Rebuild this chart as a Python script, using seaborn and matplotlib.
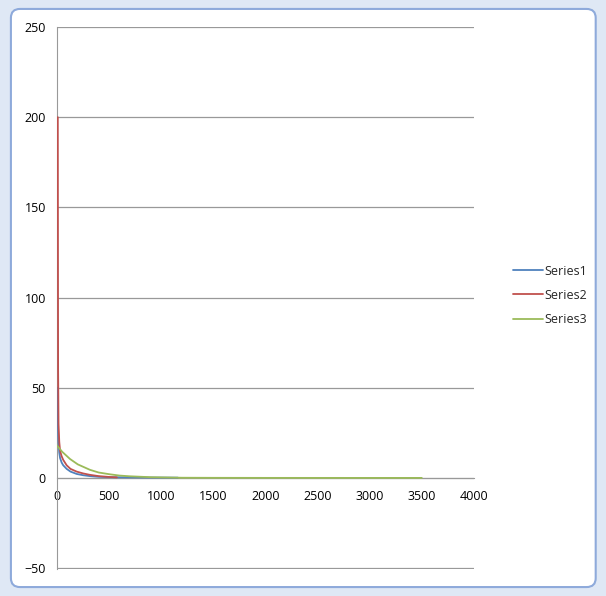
import pandas as pd
import seaborn as sns
import matplotlib.pyplot as plt
from matplotlib.patches import FancyBboxPatch

# valeurs
x1 = [6, 10, 15, 22, 30, 45, 60, 93, 130, 189, 250, 316, 400, 508, 700, 900, 1160]
y1 = [50, 28, 20, 14, 11, 8.5, 7, 5, 3.5, 2.2, 1.5, 1.0, 0.6, 0.4, 0.3, 0.2, 0.15]

x2 = [8, 11, 15, 22, 30, 45, 60, 93, 130, 189, 250, 316, 400, 508, 575]
y2 = [200, 60, 30, 20, 15, 12, 10, 7, 5, 3.5, 2.5, 1.7, 1.0, 0.5, 0.3]

x3 = [0, 50, 125, 200, 316, 400, 508, 600, 700, 900, 1200, 1500, 2000, 2500, 3000, 3500]
y3 = [18, 14.5, 10.5, 7.5, 4.5, 3, 2, 1.3, 0.9, 0.4, 0.1, 0.05, 0.02, 0.01, 0.005, 0]

series_names = ["Series1", "Series2", "Series3"]
colors = ["#4F81BD", "#C0504D", "#9BBB59"]

df = pd.concat([
    pd.DataFrame({"x": x1, "y": y1, "serie": series_names[0]}),
    pd.DataFrame({"x": x2, "y": y2, "serie": series_names[1]}),
    pd.DataFrame({"x": x3, "y": y3, "serie": series_names[2]}),
])

sns.set_style("white")
plt.rcParams["font.family"] = ["Open Sans", "DejaVu Sans"]

fig = plt.figure(figsize=(6.06, 5.96), dpi=100)
fig.patch.set_facecolor("#dfe8f5")
# cadre du graphique (style Excel)
frame = FancyBboxPatch((0.018, 0.015), 0.965, 0.97, boxstyle="round,pad=0,rounding_size=0.015",
                       transform=fig.transFigure, facecolor="white", edgecolor="#8eaadb",
                       linewidth=1.5, zorder=-1)
fig.patches.append(frame)

ax = fig.add_axes([0.094, 0.0453, 0.688, 0.9094])
ax.set_facecolor("none")
sns.lineplot(data=df, x="x", y="y", hue="serie", palette=colors, linewidth=1.3,
             sort=False, estimator=None, ax=ax)

ax.set_xlim(0, 4000)
ax.set_ylim(-50.5, 250)
ax.set_xticks(range(0, 4001, 500))
ax.set_yticks(range(-50, 251, 50))
ax.yaxis.grid(True, color="#999999", linewidth=0.9)
ax.set_axisbelow(True)
for s in ["top", "right"]:
    ax.spines[s].set_visible(False)
ax.spines["bottom"].set_position(("data", 0))
for s in ["bottom", "left"]:
    ax.spines[s].set_color("#999999")
    ax.spines[s].set_zorder(1)
ax.tick_params(axis="both", direction="out", length=4, color="#999999", labelsize=9,
               labelcolor="black", pad=4)
ax.tick_params(axis="x", pad=5)
ax.set_xlabel("")
ax.set_ylabel("")

sns.move_legend(ax, "center left", bbox_to_anchor=(1.066, 0.505), title=None, frameon=False,
                fontsize=9, handlelength=2.4, handletextpad=0.1, labelspacing=0.9)

plt.savefig("out.png", dpi=100)
